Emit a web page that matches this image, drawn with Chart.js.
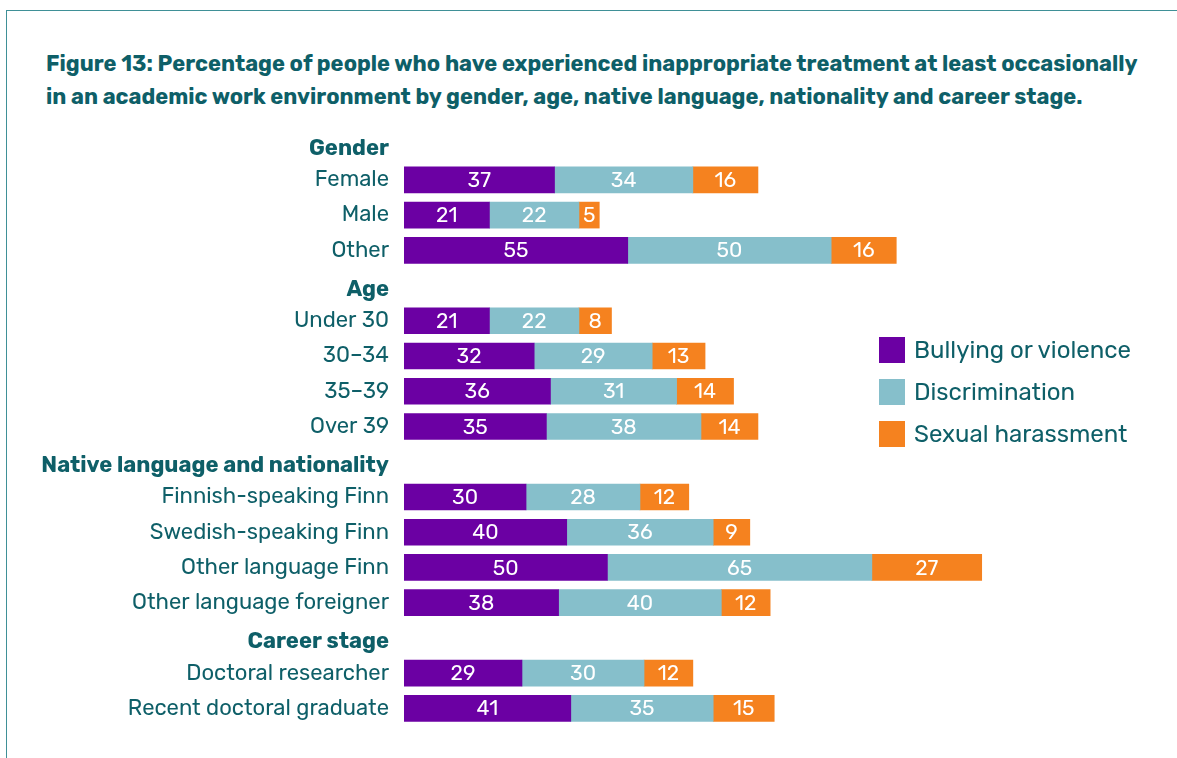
<!DOCTYPE html>
<html>
<head>
<meta charset="utf-8">
<script src="https://cdn.jsdelivr.net/npm/chart.js@4"></script>
<style>
  html, body { margin: 0; padding: 0; background: #fff; }
  body { width: 1177px; height: 758px; position: relative; overflow: hidden; font-family: Rubik, Inter, sans-serif; }
  #frame { position: absolute; left: 6px; top: 10px; width: 1300px; height: 900px; border-top: 1.5px solid #3f9097; border-left: 1.5px solid #3f9097; }
  #title { position: absolute; left: 46px; top: 47px; width: 1125px; color: #0e5f68; font-weight: 700; font-size: 21.9px; line-height: 33px; white-space: nowrap; }
  #wrap { position: absolute; left: 0; top: 0; width: 1177px; height: 758px; }
  #legend { position: absolute; left: 879px; top: 337px; color: #0e5f68; font-size: 24px; }
  .item { display: flex; align-items: center; height: 26px; margin-bottom: 16px; }
  .sw { width: 26px; height: 26px; margin-right: 9px; }
</style>
</head>
<body>
<div id="frame"></div>
<div id="title">Figure 13: Percentage of people who have experienced inappropriate treatment at least occasionally<br>in an academic work environment by gender, age, native language, nationality and career stage.</div>
<div id="wrap"><canvas id="chart" width="1177" height="758"></canvas></div>
<div id="legend"></div>
<script>
// rows, group headers have no values
const categories = [
  'Gender', 'Female', 'Male', 'Other',
  'Age', 'Under 30', '30–34', '35–39', 'Over 39',
  'Native language and nationality', 'Finnish-speaking Finn', 'Swedish-speaking Finn', 'Other language Finn', 'Other language foreigner',
  'Career stage', 'Doctoral researcher', 'Recent doctoral graduate'
];
const headers = [0, 4, 9, 14];

const seriesNames = ['Bullying or violence', 'Discrimination', 'Sexual harassment'];
const seriesColors = ['#6b00a3', '#86bfcb', '#f5821f'];

const bullying       = [null, 37, 21, 55, null, 21, 32, 36, 35, null, 30, 40, 50, 38, null, 29, 41];
const discrimination = [null, 34, 22, 50, null, 22, 29, 31, 38, null, 28, 36, 65, 40, null, 30, 35];
const harassment     = [null, 16, 5, 16, null, 8, 13, 14, 14, null, 12, 9, 27, 12, null, 12, 15];

const teal = '#0e5f68';
const font = 'Rubik, Inter, sans-serif';

// values written in the middle of each segment
const valueLabels = {
  id: 'valueLabels',
  afterDatasetsDraw(chart) {
    const ctx = chart.ctx;
    ctx.save();
    ctx.fillStyle = '#fff';
    ctx.font = '21px ' + font;
    ctx.textAlign = 'center';
    ctx.textBaseline = 'middle';
    chart.data.datasets.forEach((ds, i) => {
      chart.getDatasetMeta(i).data.forEach((bar, j) => {
        const v = ds.data[j];
        if (v == null) return;
        const p = bar.getCenterPoint();
        ctx.fillText(v, p.x, p.y + 1);
      });
    });
    ctx.restore();
  }
};

const chart = new Chart(document.getElementById('chart'), {
  type: 'bar',
  data: {
    labels: categories,
    datasets: [bullying, discrimination, harassment].map((d, i) => ({
      label: seriesNames[i],
      data: d,
      backgroundColor: seriesColors[i],
      barThickness: 26,
      borderWidth: 0
    }))
  },
  options: {
    indexAxis: 'y',
    responsive: false,
    animation: false,
    layout: { padding: { top: 127, bottom: 32, left: 0, right: 0 } },
    plugins: { legend: { display: false }, tooltip: { enabled: false } },
    scales: {
      x: { stacked: true, min: 0, max: 190, display: false },
      y: {
        stacked: true,
        grid: { display: false, drawTicks: false },
        border: { display: false },
        afterFit(scale) { scale.width = 404; },
        ticks: {
          padding: 15,
          color: teal,
          // headers sit a few px lower than their slot: empty first line pushes them down
          callback(v, i) { const l = this.getLabelForValue(v); return headers.includes(i) ? ['', l] : l; },
          font: c => headers.includes(c.index)
            ? { family: font, size: 22, weight: '700', lineHeight: '8px' }
            : { family: font, size: 22, weight: '400' }
        }
      }
    }
  },
  plugins: [valueLabels]
});

// legend
const legend = document.getElementById('legend');
seriesNames.forEach((n, i) => {
  const el = document.createElement('div');
  el.className = 'item';
  el.innerHTML = `<div class="sw" style="background:${seriesColors[i]}"></div><span>${n}</span>`;
  legend.appendChild(el);
});
</script>
</body>
</html>
